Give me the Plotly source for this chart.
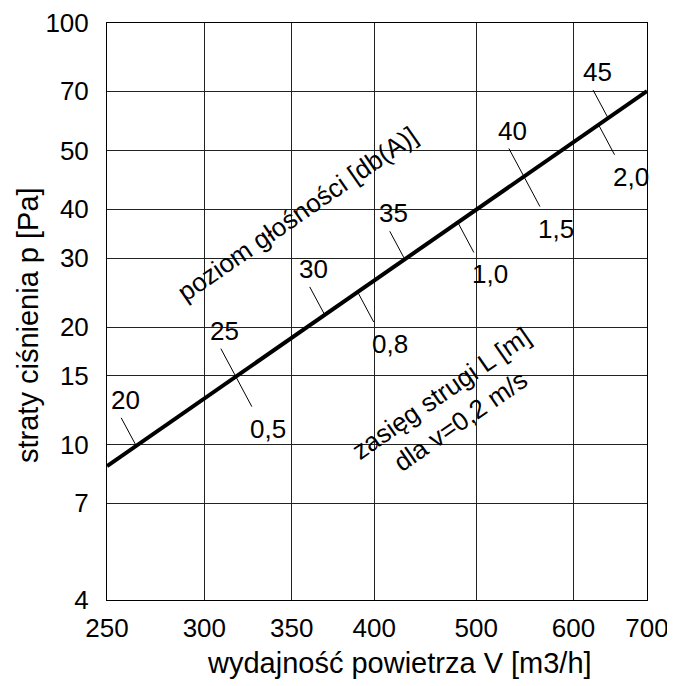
import numpy as np
import plotly.graph_objects as go

# ---- axis scale definition (non-uniform chart scales) ----
X_TICKS = [250, 300, 350, 400, 500, 600, 700]
X_SCALE = [0, 97.3, 184.7, 267, 369, 466.3, 539.7]
Y_TICKS = [4, 7, 10, 15, 20, 30, 40, 50, 70, 100]
Y_SCALE = [0, 96.7, 155.3, 224, 272.7, 341.7, 390.7, 449.3, 508.7, 576.7]

# ---- data ----
flow = [250, 700]          # m3/h
pressure = [8.9, 70]       # Pa

noise_db = ["20", "25", "30", "35", "40", "45"]
noise_flow = [265, 318, 370, 430, 549, 647]

throw_L = ["0,5", "0,8", "1,0", "1,5", "2,0"]
throw_flow = [318, 390, 482, 549, 634]


def sx(v):
    return np.interp(v, X_TICKS, X_SCALE)


def sy(v):
    return np.interp(v, Y_TICKS, Y_SCALE)


lx = sx(flow)
ly = sy(pressure)


def on_line(f):
    x = sx(f)
    return x, np.interp(x, lx, ly)


FONT = "Liberation Sans, Arial, sans-serif"
LBL = 26
TTL = 29
fig = go.Figure()

fig.add_trace(go.Scatter(x=lx, y=ly, mode="lines",
                         line=dict(color="black", width=4), hoverinfo="skip"))

annotations = []
for lab, f in zip(noise_db, noise_flow):
    x, y = on_line(f)
    fig.add_trace(go.Scatter(x=[x, x - 15], y=[y, y + 28], mode="lines",
                             line=dict(color="black", width=1), hoverinfo="skip"))
    annotations.append(dict(x=x, y=y, text=lab, showarrow=False, xshift=-11, yshift=46,
                            font=dict(size=LBL, color="black", family=FONT)))
for lab, f in zip(throw_L, throw_flow):
    x, y = on_line(f)
    fig.add_trace(go.Scatter(x=[x, x + 16], y=[y, y - 30], mode="lines",
                             line=dict(color="black", width=1), hoverinfo="skip"))
    annotations.append(dict(x=x, y=y, text=lab, showarrow=False, xshift=32, yshift=-52,
                            font=dict(size=LBL, color="black", family=FONT)))

annotations.append(dict(x=190, y=386, text="poziom głośności [db(A)]", showarrow=False,
                        textangle=-34.7, font=dict(size=LBL, color="black", family=FONT)))
annotations.append(dict(x=344, y=192.5, text="zasięg strugi L [m]<br>dla v=0,2 m/s",
                        showarrow=False, textangle=-34.7, align="center",
                        font=dict(size=LBL, color="black", family=FONT)))
annotations.append(dict(xref="paper", yref="paper", x=(399 - 107) / 540, y=-(663 - 600) / 577,
                        text="wydajność powietrza V [m3/h]", showarrow=False,
                        xanchor="center", yanchor="middle",
                        font=dict(size=TTL, color="black", family=FONT)))
annotations.append(dict(xref="paper", yref="paper", x=(28 - 107) / 540, y=(600 - 325) / 577,
                        text="straty ciśnienia p [Pa]", showarrow=False, textangle=-90,
                        xanchor="center", yanchor="middle",
                        font=dict(size=TTL, color="black", family=FONT)))

# page body has an 8px margin, so the figure is shrunk and the margins shifted
fig.update_layout(
    width=667, height=678,
    margin=dict(l=99, r=28, t=15, b=86, autoexpand=False),
    paper_bgcolor="white", plot_bgcolor="white",
    showlegend=False,
    annotations=annotations,
    font=dict(family=FONT, color="black", size=LBL),
    xaxis=dict(range=[0, 539.7], tickvals=X_SCALE, ticktext=[str(t) for t in X_TICKS],
               showgrid=True, gridcolor="#222222", gridwidth=1, zeroline=False,
               showline=True, linecolor="black", linewidth=1, mirror=True, automargin=False,
               ticks="", ticklabelstandoff=5, tickfont=dict(size=LBL, family=FONT)),
    yaxis=dict(range=[0, 576.7], tickvals=Y_SCALE, ticktext=[str(t) for t in Y_TICKS],
               showgrid=True, gridcolor="#222222", gridwidth=1, zeroline=False,
               showline=True, linecolor="black", linewidth=1, mirror=True, automargin=False,
               ticks="", ticklabelstandoff=12, tickfont=dict(size=LBL, family=FONT)),
)

fig.write_html("out.html")
